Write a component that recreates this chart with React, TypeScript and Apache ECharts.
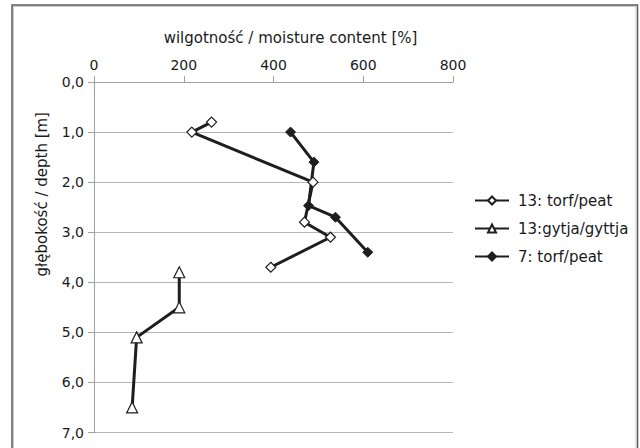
import React, { useEffect, useRef } from "react";
import * as echarts from "echarts";

const xTicks = [0, 200, 400, 600, 800];
const depthTicks = [0, 1, 2, 3, 4, 5, 6, 7];

const peat13Moisture = [262, 218, 488, 469, 527, 394];
const peat13Depth = [0.8, 1.0, 2.0, 2.8, 3.1, 3.7];

const gyttja13Moisture = [190, 190, 95, 85];
const gyttja13Depth = [3.8, 4.5, 5.1, 6.5];

const peat7Moisture = [438, 490, 478, 538, 610];
const peat7Depth = [1.0, 1.6, 2.47, 2.7, 3.4];

const seriesNames = ["13: torf/peat", "13:gytja/gyttja", "7: torf/peat"];

const FONT = "DejaVu Sans";

function pairs(xs: number[], ys: number[]) {
  return xs.map((x, i) => [x, ys[i]]);
}

export default function App() {
  const ref = useRef<HTMLDivElement>(null);
  useEffect(() => {
    if (!ref.current) return;
    const chart = echarts.init(ref.current, undefined, { renderer: "svg" });
    const lineColor = "#1e1e1e";
    chart.setOption({
      animation: false,
      backgroundColor: "#ffffff",
      textStyle: { fontFamily: FONT },
      grid: { left: 94, right: 187, top: 82, bottom: 15.5, containLabel: false },
      graphic: [
        {
          type: "rect",
          shape: { x: 12, y: 5, width: 625.5, height: 470 },
          style: { fill: "none", stroke: "#5a5a5a", lineWidth: 1.5 },
          z: 100,
        },
        {
          type: "rect",
          shape: { x: 13.5, y: 6.5, width: 622.5, height: 470 },
          style: { fill: "none", stroke: "#c8c8c8", lineWidth: 1 },
          z: 100,
        },
      ],
      xAxis: {
        type: "value",
        position: "top",
        min: xTicks[0],
        max: xTicks[xTicks.length - 1],
        interval: xTicks[1] - xTicks[0],
        name: "wilgotność / moisture content [%]",
        nameLocation: "middle",
        nameGap: 37,
        nameTextStyle: {
          fontFamily: FONT,
          fontSize: 15,
          color: "#1a1a1a",
          padding: [0, 0, 0, 34],
        },
        axisLine: { show: true, lineStyle: { color: "#a0a0a0", width: 1 } },
        axisTick: { show: true, length: 6, lineStyle: { color: "#a0a0a0" } },
        axisLabel: { fontFamily: FONT, fontSize: 14, color: "#1a1a1a", margin: 10 },
        splitLine: { show: false },
      },
      yAxis: {
        type: "value",
        inverse: true,
        min: depthTicks[0],
        max: depthTicks[depthTicks.length - 1],
        interval: 1,
        name: "głębokość / depth [m]",
        nameLocation: "middle",
        nameRotate: 90,
        nameGap: 45,
        nameTextStyle: {
          fontFamily: FONT,
          fontSize: 15,
          color: "#1a1a1a",
          padding: [0, 0, 0, 126],
        },
        axisLine: { show: true, lineStyle: { color: "#a0a0a0", width: 1 } },
        axisTick: { show: true, length: 6, lineStyle: { color: "#a0a0a0" } },
        axisLabel: {
          fontFamily: FONT,
          fontSize: 14,
          color: "#1a1a1a",
          margin: 10,
          formatter: (v: number) => v.toFixed(1).replace(".", ","),
        },
        splitLine: { show: true, lineStyle: { color: "#b4b4b4", width: 1.2 } },
      },
      legend: {
        orient: "vertical",
        left: 469,
        top: 188,
        itemWidth: 34,
        itemHeight: 10,
        itemGap: 13,
        textStyle: { fontFamily: FONT, fontSize: 15, color: "#1a1a1a", padding: [0, 0, 0, 4] },
        data: seriesNames,
      },
      series: [
        {
          name: seriesNames[0],
          type: "line",
          data: pairs(peat13Moisture, peat13Depth),
          symbol: "diamond",
          symbolSize: 10,
          showAllSymbol: true,
          lineStyle: { color: lineColor, width: 3 },
          itemStyle: { color: "#ffffff", borderColor: lineColor, borderWidth: 1.2 },
          z: 3,
        },
        {
          name: seriesNames[1],
          type: "line",
          data: pairs(gyttja13Moisture, gyttja13Depth),
          symbol: "triangle",
          symbolSize: 11,
          showAllSymbol: true,
          lineStyle: { color: lineColor, width: 3 },
          itemStyle: { color: "#ffffff", borderColor: lineColor, borderWidth: 1.2 },
          z: 3,
        },
        {
          name: seriesNames[2],
          type: "line",
          data: pairs(peat7Moisture, peat7Depth),
          symbol: "diamond",
          symbolSize: 10,
          showAllSymbol: true,
          lineStyle: { color: lineColor, width: 3 },
          itemStyle: { color: lineColor, borderColor: lineColor, borderWidth: 1 },
          z: 2,
        },
      ],
    });
    return () => chart.dispose();
  }, []);
  return (
    <div
      ref={ref}
      style={{ position: "fixed", left: 0, top: 0, width: 640, height: 448, background: "#fff" }}
    />
  );
}
